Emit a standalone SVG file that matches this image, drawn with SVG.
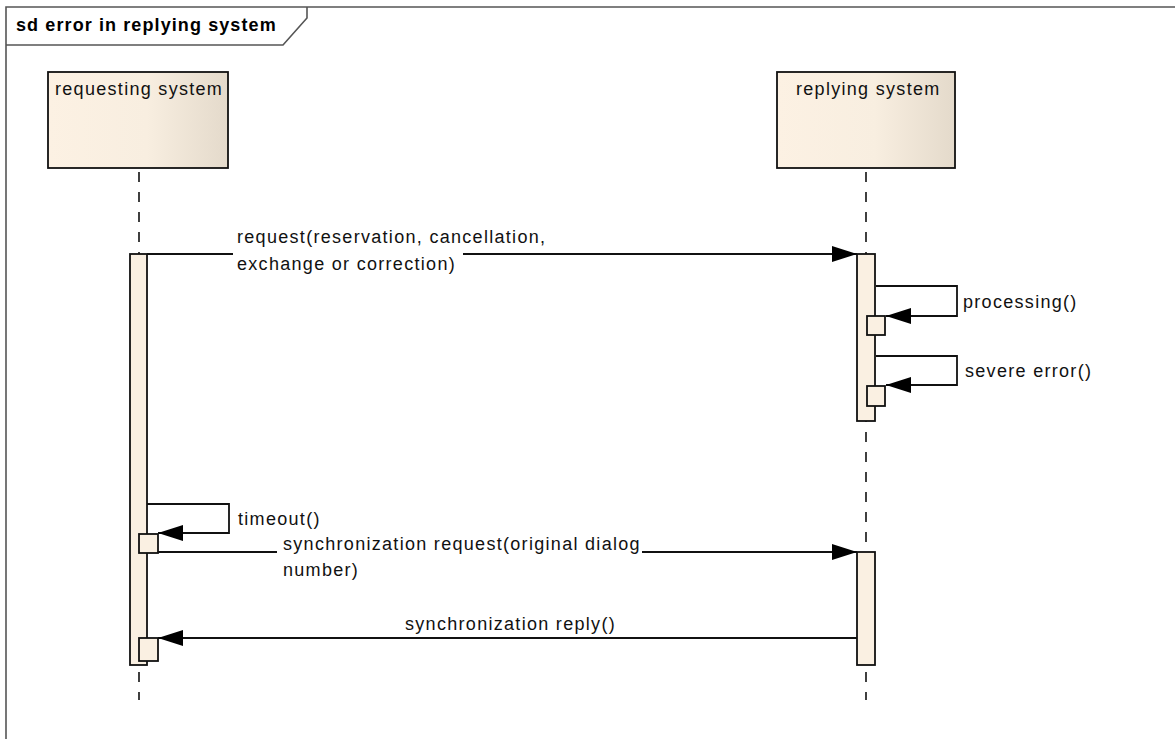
<svg xmlns="http://www.w3.org/2000/svg" width="1175" height="739" viewBox="0 0 1175 739">
  <defs>
    <linearGradient id="headFill" x1="0" y1="0" x2="1" y2="0">
      <stop offset="0" stop-color="#FCF1E3"/>
      <stop offset="0.55" stop-color="#F8EEE0"/>
      <stop offset="1" stop-color="#E4DACB"/>
    </linearGradient>
    <marker id="arrow" viewBox="0 0 25 16" refX="25" refY="8" markerWidth="25" markerHeight="16" markerUnits="userSpaceOnUse" orient="auto">
      <path d="M0,0 L25,8 L0,16 z" fill="#000"/>
    </marker>
    <style>
      .frame { fill: none; stroke: #555; stroke-width: 1.6; }
      .title { font-family: "Liberation Sans", Arial, sans-serif; font-size: 18px; font-weight: bold; letter-spacing: 1.1px; fill: #000; }
      .head { fill: url(#headFill); stroke: #111; stroke-width: 1.8; }
      .headText { font-family: "Liberation Sans", Arial, sans-serif; font-size: 18px; letter-spacing: 1.3px; fill: #111; }
      .life { stroke: #111; stroke-width: 1.6; stroke-dasharray: 10 10; fill: none; }
      .bar { fill: #FAF0E2; stroke: #111; stroke-width: 1.8; }
      .msg { fill: none; stroke: #111; stroke-width: 1.8; marker-end: url(#arrow); }
      .label { font-family: "Liberation Sans", Arial, sans-serif; font-size: 18px; letter-spacing: 1.3px; fill: #111; }
      .labelBg { fill: #fff; }
    </style>
  </defs>

  <rect x="0" y="0" width="1175" height="739" fill="#fff"/>

  <!-- interaction frame -->
  <g id="frame">
    <path class="frame" d="M6,739 V7 H1175"/>
    <path class="frame" d="M6,45 H283 L307,18 V7"/>
    <text class="title" x="16" y="31">sd error in replying system</text>
  </g>

  <!-- lifelines -->
  <g id="requesting-system">
    <rect class="head" x="48" y="72" width="180" height="96"/>
    <text class="headText" x="55" y="95">requesting system</text>
    <line class="life" x1="139" y1="172" x2="139" y2="700"/>
    <rect class="bar" x="130" y="254" width="17" height="411"/>
    <rect class="bar" x="139" y="534" width="19" height="19"/>
    <rect class="bar" x="139" y="638" width="19" height="23"/>
  </g>

  <g id="replying-system">
    <rect class="head" x="777" y="72" width="178" height="96"/>
    <text class="headText" x="796" y="95">replying system</text>
    <line class="life" x1="866" y1="172" x2="866" y2="700"/>
    <rect class="bar" x="857" y="254" width="18" height="167"/>
    <rect class="bar" x="867" y="316" width="18" height="19"/>
    <rect class="bar" x="867" y="386" width="18" height="20"/>
    <rect class="bar" x="857" y="552" width="18" height="113"/>
  </g>

  <!-- messages -->
  <g id="connectors">
    <line class="msg" x1="147" y1="254" x2="857" y2="254"/>
    <polyline class="msg" points="876,286 957,286 957,316 886,316"/>
    <polyline class="msg" points="876,356 957,356 957,385 886,385"/>
    <polyline class="msg" points="147,504 229,504 229,533 158,533"/>
    <line class="msg" x1="158" y1="552" x2="857" y2="552"/>
    <line class="msg" x1="857" y1="638" x2="158" y2="638"/>
  </g>

  <!-- message labels; white boxes break the message line under each text line -->
  <g id="labels">
    <rect class="labelBg" x="233" y="249" width="230" height="24"/>
    <text class="label" x="237" y="243">request(reservation, cancellation,</text>
    <text class="label" x="237" y="270">exchange or correction)</text>

    <text class="label" x="963" y="308">processing()</text>
    <text class="label" x="965" y="377">severe error()</text>
    <text class="label" x="238" y="525">timeout()</text>

    <rect class="labelBg" x="277" y="536" width="365" height="20"/>
    <text class="label" x="283" y="550">synchronization request(original dialog</text>
    <text class="label" x="283" y="576">number)</text>

    <text class="label" x="405" y="630">synchronization reply()</text>
  </g>
</svg>
